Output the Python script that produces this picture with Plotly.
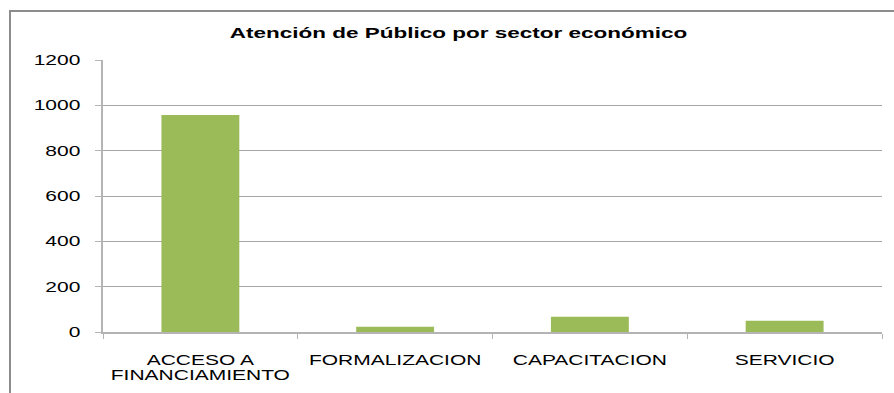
import plotly.graph_objects as go

# Public attention by economic sector
categories = ["ACCESO A<br>FINANCIAMIENTO", "FORMALIZACION", "CAPACITACION", "SERVICIO"]
attended = [957, 23, 67, 50]
y_ticks = [0, 200, 400, 600, 800, 1000, 1200]

W, H = 894, 393
L, R, T, B = 103, 12, 60, 61
pw, ph = W - L - R, H - T - B

def px_x(x):
    return (x - L) / pw

def px_y(y):
    return (H - B - y) / ph

fig = go.Figure(
    go.Bar(
        x=categories,
        y=attended,
        marker=dict(color="#9BBB59", line=dict(width=0)),
        hoverinfo="x+y",
    )
)

fig.update_layout(
    width=W,
    height=H,
    margin=dict(l=L, r=R, t=T, b=B),
    paper_bgcolor="white",
    plot_bgcolor="white",
    bargap=0.6,
    showlegend=False,
    font=dict(family="Liberation Sans, Arial, sans-serif", size=14, color="#000000"),
    xaxis=dict(
        type="category",
        automargin=False,
        showgrid=False,
        showline=True,
        linecolor="#B4B4B4",
        linewidth=1.5,
        ticks="outside",
        tickson="boundaries",
        ticklen=5,
        tickcolor="#B4B4B4",
        tickfont=dict(size=14, color="#000000"),
        ticklabelstandoff=14,
        fixedrange=True,
    ),
    yaxis=dict(
        range=[0, 1200],
        automargin=False,
        tickvals=y_ticks,
        showgrid=True,
        gridcolor="#A6A6A6",
        gridwidth=1,
        showline=True,
        linecolor="#B4B4B4",
        linewidth=1.5,
        ticks="outside",
        ticklen=6,
        tickcolor="#B4B4B4",
        tickfont=dict(size=14, color="#000000"),
        ticklabelstandoff=12,
        zeroline=False,
        fixedrange=True,
    ),
    shapes=[
        dict(
            type="rect",
            xref="paper",
            yref="paper",
            x0=px_x(10),
            x1=px_x(W + 20),
            y0=px_y(H + 20),
            y1=px_y(11),
            line=dict(color="#8C8C8C", width=2),
            fillcolor="rgba(0,0,0,0)",
            layer="below",
        )
    ],
    annotations=[
        dict(
            text="<b>Atención de Público por sector económico</b>",
            xref="paper",
            yref="paper",
            x=px_x(458),
            y=px_y(33),
            xanchor="center",
            yanchor="middle",
            showarrow=False,
            font=dict(size=15, color="#000000"),
        )
    ],
)

# Widen the lettering horizontally and tighten line spacing of two-line labels
post = """
var gd = document.getElementById('{plot_id}');
gd.querySelectorAll('svg text').forEach(function(t){
  t.querySelectorAll('tspan.line').forEach(function(s){
    var dy = s.getAttribute('dy');
    if (dy && dy.indexOf('1.3em') >= 0) { s.setAttribute('dy', '1.07em'); }
  });
  var b = t.getBBox();
  var a = t.getAttribute('text-anchor') || 'start';
  var cx = a === 'end' ? b.x + b.width : (a === 'middle' ? b.x + b.width / 2 : b.x);
  var tr = t.getAttribute('transform') || '';
  t.setAttribute('transform', tr + ' translate(' + cx + ',0) scale(1.5,1) translate(' + (-cx) + ',0)');
});
"""

fig.write_html("out.html", post_script=post, config={"displayModeBar": False})
